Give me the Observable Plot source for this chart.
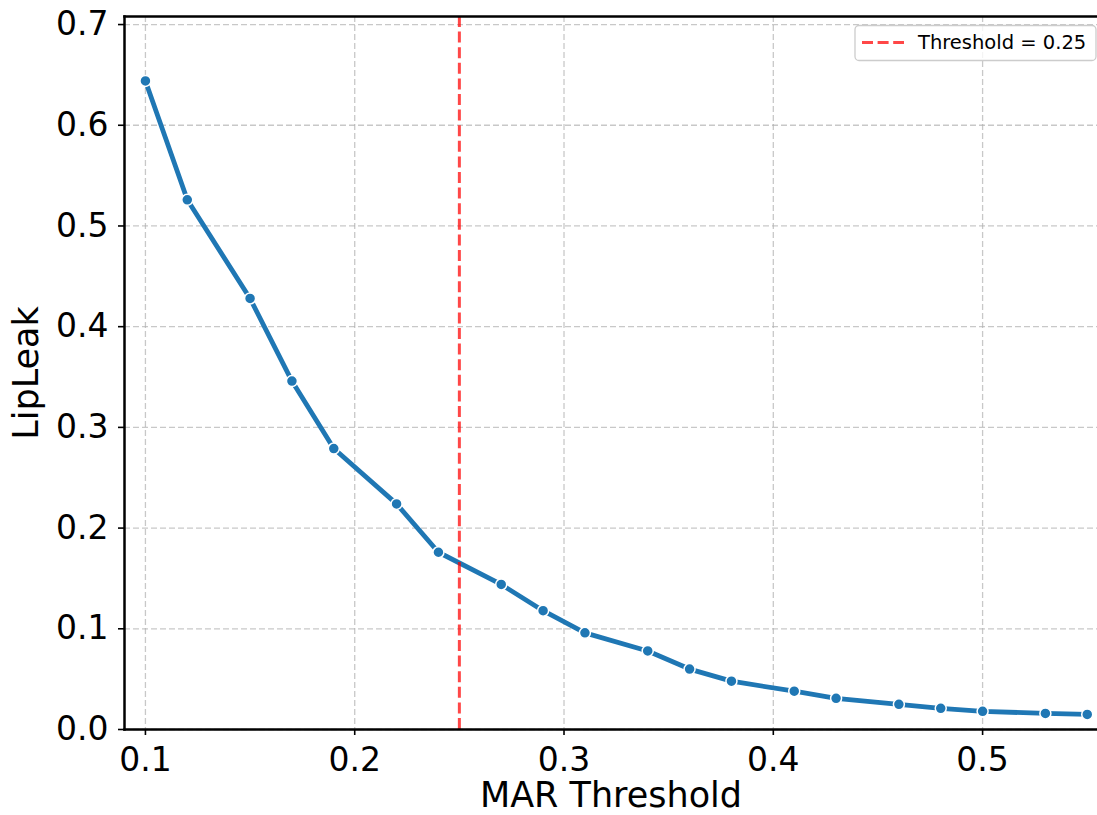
<!DOCTYPE html>
<html><head><meta charset="utf-8">
<script src="https://cdn.jsdelivr.net/npm/d3@7"></script>
<script src="https://cdn.jsdelivr.net/npm/@observablehq/plot@0.6"></script>
<style>html,body{margin:0;padding:0;background:#fff;overflow:hidden}</style>
</head><body><div id="chart"></div>
<script>
const marThreshold = [0.10,0.12,0.15,0.17,0.19,0.22,0.24,0.27,0.29,0.31,0.34,0.36,0.38,0.41,0.43,0.46,0.48,0.50,0.53,0.55];
const lipLeak = [0.644,0.526,0.428,0.346,0.279,0.224,0.176,0.144,0.118,0.096,0.078,0.060,0.048,0.038,0.031,0.025,0.021,0.018,0.016,0.015];
const xTicks = [0.1,0.2,0.3,0.4,0.5];
const yTicks = [0,0.1,0.2,0.3,0.4,0.5,0.6,0.7];
const thresholdValue = [0.25];
const legendLabel = "Threshold = 0.25";
const xLabel = "MAR Threshold";
const yLabel = "LipLeak";

const data = marThreshold.map((x, i) => ({x, y: lipLeak[i]}));
const font = "'DejaVu Sans', sans-serif";
const gridStyle = {stroke: "#b0b0b0", strokeOpacity: 0.7, strokeDasharray: "6,3", strokeWidth: 1.3};

const chart = Plot.plot({
  width: 1097, height: 815,
  marginLeft: 124, marginRight: 0, marginTop: 16, marginBottom: 86,
  style: {fontFamily: font, background: "#fff", color: "#000", overflow: "visible"},
  x: {domain: [0.09, 0.5549]},
  y: {domain: [0, 0.708]},
  marks: [
    Plot.gridX(xTicks, gridStyle),
    Plot.gridY(yTicks, gridStyle),
    Plot.line(data, {x: "x", y: "y", stroke: "#1f77b4", strokeWidth: 4.8, strokeLinejoin: "round", strokeLinecap: "round"}),
    Plot.dot(data, {x: "x", y: "y", r: 5.5, fill: "#1f77b4", stroke: "white", strokeWidth: 1.5}),
    Plot.ruleX(thresholdValue, {stroke: "red", strokeOpacity: 0.72, strokeWidth: 3, strokeDasharray: "11,4.6"}),
    Plot.axisX(xTicks, {tickSize: 6, tickPadding: 12, fontSize: 33, strokeWidth: 1.6, tickFormat: d3.format(".1f"), label: null}),
    Plot.axisY(yTicks, {tickSize: 6, tickPadding: 10, fontSize: 33, strokeWidth: 1.6, tickFormat: d3.format(".1f"), label: null}),
    Plot.axisX([], {tickSize: 0, fontSize: 35, label: xLabel, labelAnchor: "center", labelArrow: "none", labelOffset: 77}),
    Plot.axisY([], {tickSize: 0, fontSize: 35, label: yLabel, labelAnchor: "center", labelArrow: "none", labelOffset: 111}),
    Plot.frame({anchor: "bottom", stroke: "black", strokeWidth: 2.5}),
    Plot.frame({anchor: "left", stroke: "black", strokeWidth: 2.5}),
    Plot.frame({anchor: "top", stroke: "black", strokeWidth: 2.5})
  ]
});

// legend (inside plot, upper right)
const svg = d3.select(chart);
const lg = svg.append("g").attr("font-family", font).attr("text-anchor", "start");
lg.append("rect").attr("x", 855).attr("y", 25.5).attr("width", 241).attr("height", 35).attr("rx", 4)
  .attr("fill", "white").attr("fill-opacity", 0.8).attr("stroke", "#cccccc").attr("stroke-width", 1.3);
lg.append("line").attr("x1", 862).attr("x2", 904).attr("y1", 42.5).attr("y2", 42.5)
  .attr("stroke", "red").attr("stroke-opacity", 0.72).attr("stroke-width", 3).attr("stroke-dasharray", "11,4.6");
lg.append("text").attr("x", 918).attr("y", 48.5).attr("font-size", 19.5).attr("fill", "#000").attr("text-anchor", "start").text(legendLabel);

document.getElementById("chart").appendChild(chart);
</script>
</body></html>
